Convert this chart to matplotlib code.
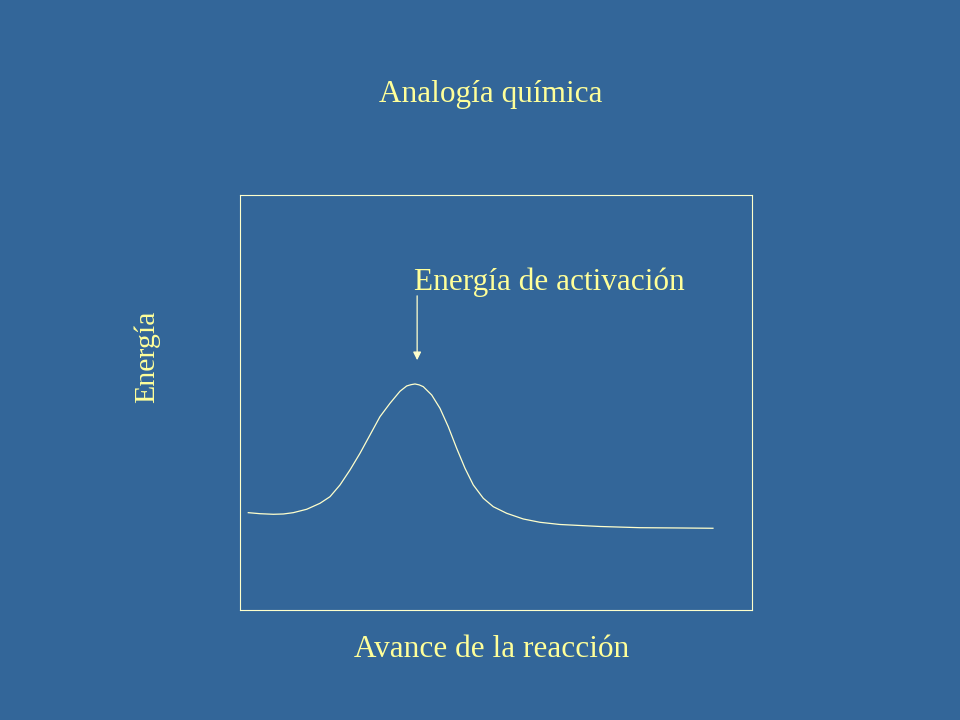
import matplotlib
matplotlib.use('Agg')
import matplotlib.pyplot as plt

# reaction coordinate vs energy (box = 0..100 both ways)
avance = [1.62, 3.91, 6.50, 8.46, 10.41, 13.03, 15.63, 17.58, 19.53, 21.48,
          23.44, 25.39, 27.34, 29.30, 31.25, 32.56, 33.40, 34.18, 35.00, 35.80,
          37.44, 39.06, 40.68, 42.32, 43.95, 45.57, 47.52, 49.47, 52.09, 55.33,
          58.59, 62.50, 70.31, 78.13, 85.94, 92.38]
energia = [23.45, 23.20, 23.06, 23.13, 23.45, 24.27, 25.71, 27.30, 30.12, 33.73,
           37.76, 42.17, 46.58, 49.81, 52.70, 53.98, 54.29, 54.46, 54.24, 53.81,
           51.81, 48.60, 44.17, 38.96, 34.14, 30.12, 26.92, 24.89, 23.30, 21.93,
           21.13, 20.60, 20.12, 19.83, 19.76, 19.69]

titulo = 'Analogía química'
etiqX = 'Avance de la reacción'
etiqY = 'Energía'
nota = 'Energía de activación'

fondo = '#336699'
amarillo = '#ffff99'
plt.rcParams['font.family'] = ['Liberation Serif', 'DejaVu Serif']

fig = plt.figure(figsize=(9.6, 7.2), dpi=100, facecolor=fondo)
ax = fig.add_axes([0.25, 0.1528, 0.5333, 0.5764])
ax.set_facecolor(fondo)
ax.plot(avance, energia, color='#ffffcc', linewidth=0.9, solid_joinstyle='round')
ax.set_xlim(0, 100)
ax.set_ylim(0, 100)
ax.set_xticks([])
ax.set_yticks([])
for s in ax.spines.values():
    s.set_color('#ffffcc')
    s.set_linewidth(0.8)

ax.annotate('', xy=(34.6, 60.2), xytext=(34.6, 75.7),
            arrowprops=dict(arrowstyle='-|>', color='#ffffcc', lw=0.9,
                            mutation_scale=12, shrinkA=0, shrinkB=0))
ax.text(34.0, 77.0, nota, color=amarillo, fontsize=22.5, ha='left', va='baseline')

fig.text(0.5115, 0.869, titulo, color=amarillo, fontsize=22.5, ha='center', va='center')
fig.text(0.5125, 0.098, etiqX, color=amarillo, fontsize=22.5, ha='center', va='center')
fig.text(0.153, 0.504, etiqY, color=amarillo, fontsize=21.5, ha='center', va='center',
         rotation=90)

fig.savefig('out.png', dpi=100, facecolor=fondo)
